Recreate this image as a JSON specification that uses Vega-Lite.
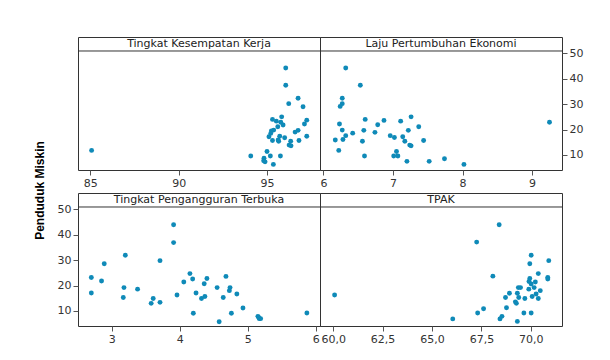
{
  "$schema": "https://vega.github.io/schema/vega-lite/v6.json",
  "background": "white",
  "padding": {"left": 33, "top": 36, "right": 5, "bottom": 5},
  "title": {"text": "Penduduk Miskin", "orient": "left", "anchor": "middle", "font": "Liberation Sans", "fontSize": 12, "fontWeight": "bold", "color": "#000", "offset": 10},
  "data": {"values": [
    {"panel":"TKK","x":85.07,"y":11.8},{"panel":"TKK","x":96.06,"y":44.2},{"panel":"TKK","x":96.06,"y":37.4},{"panel":"TKK","x":96.23,"y":30.2},
    {"panel":"TKK","x":96.76,"y":32.3},{"panel":"TKK","x":97.04,"y":29.0},{"panel":"TKK","x":95.31,"y":24.0},{"panel":"TKK","x":95.83,"y":25.0},
    {"panel":"TKK","x":95.53,"y":23.3},{"panel":"TKK","x":95.78,"y":22.9},{"panel":"TKK","x":95.91,"y":21.8},{"panel":"TKK","x":95.61,"y":21.1},
    {"panel":"TKK","x":95.38,"y":19.8},{"panel":"TKK","x":95.25,"y":19.5},{"panel":"TKK","x":95.21,"y":18.5},{"panel":"TKK","x":97.25,"y":23.7},
    {"panel":"TKK","x":97.12,"y":22.2},{"panel":"TKK","x":96.76,"y":19.7},{"panel":"TKK","x":96.59,"y":19.0},{"panel":"TKK","x":95.11,"y":17.2},
    {"panel":"TKK","x":95.72,"y":17.4},{"panel":"TKK","x":97.25,"y":17.4},{"panel":"TKK","x":95.31,"y":15.7},{"panel":"TKK","x":95.63,"y":15.9},
    {"panel":"TKK","x":95.66,"y":15.4},{"panel":"TKK","x":96.0,"y":16.8},{"panel":"TKK","x":96.34,"y":15.4},{"panel":"TKK","x":96.81,"y":15.7},
    {"panel":"TKK","x":96.25,"y":13.9},{"panel":"TKK","x":96.36,"y":13.6},{"panel":"TKK","x":94.08,"y":9.6},{"panel":"TKK","x":95.0,"y":11.4},
    {"panel":"TKK","x":95.19,"y":9.6},{"panel":"TKK","x":95.76,"y":9.6},{"panel":"TKK","x":94.83,"y":8.7},{"panel":"TKK","x":94.81,"y":7.7},
    {"panel":"TKK","x":94.89,"y":7.3},{"panel":"TKK","x":95.36,"y":6.3},

    {"panel":"LPE","x":6.32,"y":44.2},{"panel":"LPE","x":6.53,"y":37.4},{"panel":"LPE","x":6.27,"y":32.3},{"panel":"LPE","x":6.27,"y":30.2},
    {"panel":"LPE","x":6.24,"y":29.1},{"panel":"LPE","x":6.23,"y":22.2},{"panel":"LPE","x":6.27,"y":19.8},{"panel":"LPE","x":6.17,"y":15.9},
    {"panel":"LPE","x":6.22,"y":11.8},{"panel":"LPE","x":6.28,"y":16.1},{"panel":"LPE","x":6.32,"y":17.6},{"panel":"LPE","x":6.42,"y":18.6},
    {"panel":"LPE","x":6.60,"y":24.0},{"panel":"LPE","x":6.58,"y":19.7},{"panel":"LPE","x":6.56,"y":15.4},{"panel":"LPE","x":6.59,"y":9.6},
    {"panel":"LPE","x":6.78,"y":21.9},{"panel":"LPE","x":6.74,"y":18.9},{"panel":"LPE","x":6.87,"y":23.6},{"panel":"LPE","x":6.96,"y":17.6},
    {"panel":"LPE","x":7.02,"y":16.9},{"panel":"LPE","x":7.11,"y":23.3},{"panel":"LPE","x":7.01,"y":9.6},{"panel":"LPE","x":7.05,"y":11.4},
    {"panel":"LPE","x":7.07,"y":9.6},{"panel":"LPE","x":7.14,"y":17.2},{"panel":"LPE","x":7.17,"y":15.4},{"panel":"LPE","x":7.22,"y":19.7},
    {"panel":"LPE","x":7.26,"y":25.0},{"panel":"LPE","x":7.24,"y":13.9},{"panel":"LPE","x":7.26,"y":13.6},{"panel":"LPE","x":7.20,"y":7.5},
    {"panel":"LPE","x":7.37,"y":21.1},{"panel":"LPE","x":7.44,"y":15.7},{"panel":"LPE","x":7.52,"y":7.5},{"panel":"LPE","x":7.74,"y":8.5},
    {"panel":"LPE","x":8.02,"y":6.3},{"panel":"LPE","x":9.25,"y":22.9},

    {"panel":"TPT","x":2.70,"y":23.2},{"panel":"TPT","x":2.70,"y":17.1},{"panel":"TPT","x":2.85,"y":21.8},{"panel":"TPT","x":2.89,"y":28.6},
    {"panel":"TPT","x":3.20,"y":31.9},{"panel":"TPT","x":3.18,"y":19.2},{"panel":"TPT","x":3.17,"y":15.3},{"panel":"TPT","x":3.38,"y":18.6},
    {"panel":"TPT","x":3.58,"y":13.0},{"panel":"TPT","x":3.61,"y":14.9},{"panel":"TPT","x":3.71,"y":29.8},{"panel":"TPT","x":3.71,"y":13.4},
    {"panel":"TPT","x":3.91,"y":43.9},{"panel":"TPT","x":3.91,"y":36.9},{"panel":"TPT","x":3.96,"y":16.3},{"panel":"TPT","x":4.06,"y":21.4},
    {"panel":"TPT","x":4.15,"y":24.7},{"panel":"TPT","x":4.19,"y":22.6},{"panel":"TPT","x":4.24,"y":17.1},{"panel":"TPT","x":4.20,"y":9.1},
    {"panel":"TPT","x":4.32,"y":14.9},{"panel":"TPT","x":4.36,"y":20.7},{"panel":"TPT","x":4.37,"y":15.7},{"panel":"TPT","x":4.40,"y":22.8},
    {"panel":"TPT","x":4.55,"y":19.2},{"panel":"TPT","x":4.58,"y":5.8},{"panel":"TPT","x":4.64,"y":15.3},{"panel":"TPT","x":4.68,"y":23.6},
    {"panel":"TPT","x":4.73,"y":18.0},{"panel":"TPT","x":4.74,"y":19.2},{"panel":"TPT","x":4.76,"y":9.1},{"panel":"TPT","x":4.84,"y":16.7},
    {"panel":"TPT","x":4.93,"y":11.2},{"panel":"TPT","x":5.15,"y":7.9},{"panel":"TPT","x":5.17,"y":7.0},{"panel":"TPT","x":5.19,"y":7.0},
    {"panel":"TPT","x":5.16,"y":7.5},{"panel":"TPT","x":5.87,"y":9.2},

    {"panel":"TPAK","x":60.07,"y":16.3},{"panel":"TPAK","x":66.05,"y":6.9},{"panel":"TPAK","x":67.26,"y":37.1},{"panel":"TPAK","x":67.31,"y":9.2},
    {"panel":"TPAK","x":67.61,"y":10.9},{"panel":"TPAK","x":68.08,"y":23.7},{"panel":"TPAK","x":68.40,"y":43.9},{"panel":"TPAK","x":68.44,"y":6.9},
    {"panel":"TPAK","x":68.54,"y":7.9},{"panel":"TPAK","x":68.72,"y":15.3},{"panel":"TPAK","x":68.77,"y":11.3},{"panel":"TPAK","x":68.92,"y":17.0},
    {"panel":"TPAK","x":69.22,"y":13.6},{"panel":"TPAK","x":69.27,"y":13.0},{"panel":"TPAK","x":69.32,"y":17.0},{"panel":"TPAK","x":69.37,"y":19.2},
    {"panel":"TPAK","x":69.48,"y":19.2},{"panel":"TPAK","x":69.39,"y":15.3},{"panel":"TPAK","x":69.32,"y":5.9},{"panel":"TPAK","x":69.65,"y":9.2},
    {"panel":"TPAK","x":69.70,"y":14.9},{"panel":"TPAK","x":69.90,"y":18.6},{"panel":"TPAK","x":69.91,"y":21.6},{"panel":"TPAK","x":69.95,"y":22.8},
    {"panel":"TPAK","x":69.95,"y":28.6},{"panel":"TPAK","x":70.02,"y":31.9},{"panel":"TPAK","x":70.02,"y":20.6},{"panel":"TPAK","x":70.02,"y":9.2},
    {"panel":"TPAK","x":70.07,"y":15.7},{"panel":"TPAK","x":70.17,"y":19.2},{"panel":"TPAK","x":70.23,"y":21.4},{"panel":"TPAK","x":70.27,"y":16.7},
    {"panel":"TPAK","x":70.38,"y":24.7},{"panel":"TPAK","x":70.38,"y":14.9},{"panel":"TPAK","x":70.48,"y":18.0},{"panel":"TPAK","x":70.86,"y":23.2},
    {"panel":"TPAK","x":70.86,"y":22.6},{"panel":"TPAK","x":70.91,"y":29.8}
  ]},
  "columns": 2,
  "spacing": {"row": 23, "column": 0},
  "bounds": "flush",
  "resolve": {"scale": {"x": "independent", "y": "independent"}},
  "concat": [
    {
      "width": 242, "height": 133,
      "layer": [
        {"transform": [{"filter": "datum.panel === 'TKK'"}],
         "mark": {"type": "circle", "size": 24, "color": "#0f8ab8", "opacity": 1},
         "encoding": {
           "x": {"field": "x", "type": "quantitative", "scale": {"domain": [84.3, 98.0], "nice": false, "zero": false}, "axis": {"values": [85, 90, 95], "title": null}},
           "y": {"field": "y", "type": "quantitative", "scale": {"domain": [4.1, 56.4], "nice": false, "zero": false}, "axis": null}}},
        {"data": {"values": [{"label": "Tingkat Kesempatan Kerja"}]},
         "mark": {"type": "rule", "color": "#333"}, "encoding": {"y": {"datum": 50.9, "axis": null}}},
        {"data": {"values": [{"label": "Tingkat Kesempatan Kerja"}]},
         "mark": {"type": "text", "font": "DejaVu Sans", "fontSize": 11, "color": "#222"},
         "encoding": {"y": {"datum": 53.65, "axis": null}, "text": {"field": "label"}}}
      ]
    },
    {
      "width": 242, "height": 133,
      "layer": [
        {"transform": [{"filter": "datum.panel === 'LPE'"}],
         "mark": {"type": "circle", "size": 24, "color": "#0f8ab8", "opacity": 1},
         "encoding": {
           "x": {"field": "x", "type": "quantitative", "scale": {"domain": [5.95, 9.43], "nice": false, "zero": false}, "axis": {"values": [6, 7, 8, 9], "title": null}},
           "y": {"field": "y", "type": "quantitative", "scale": {"domain": [4.1, 56.4], "nice": false, "zero": false}, "axis": {"orient": "right", "values": [10, 20, 30, 40, 50], "title": null, "labelOverlap": false}}}},
        {"data": {"values": [{"label": "Laju Pertumbuhan Ekonomi"}]},
         "mark": {"type": "rule", "color": "#333"}, "encoding": {"y": {"datum": 50.9, "axis": {"orient": "right", "values": [10, 20, 30, 40, 50], "title": null, "labelOverlap": false}}}},
        {"data": {"values": [{"label": "Laju Pertumbuhan Ekonomi"}]},
         "mark": {"type": "text", "font": "DejaVu Sans", "fontSize": 11, "color": "#222"},
         "encoding": {"y": {"datum": 53.65, "axis": {"orient": "right", "values": [10, 20, 30, 40, 50], "title": null, "labelOverlap": false}}, "text": {"field": "label"}}}
      ]
    },
    {
      "width": 242, "height": 133,
      "layer": [
        {"transform": [{"filter": "datum.panel === 'TPT'"}],
         "mark": {"type": "circle", "size": 24, "color": "#0f8ab8", "opacity": 1},
         "encoding": {
           "x": {"field": "x", "type": "quantitative", "scale": {"domain": [2.504, 6.063], "nice": false, "zero": false}, "axis": {"values": [3, 4, 5, 6], "title": null}},
           "y": {"field": "y", "type": "quantitative", "scale": {"domain": [4.1, 56.4], "nice": false, "zero": false}, "axis": {"orient": "left", "values": [10, 20, 30, 40, 50], "title": null, "labelOverlap": false}}}},
        {"data": {"values": [{"label": "Tingkat Pengangguran Terbuka"}]},
         "mark": {"type": "rule", "color": "#333"}, "encoding": {"y": {"datum": 50.9, "axis": {"orient": "left", "values": [10, 20, 30, 40, 50], "title": null, "labelOverlap": false}}}},
        {"data": {"values": [{"label": "Tingkat Pengangguran Terbuka"}]},
         "mark": {"type": "text", "font": "DejaVu Sans", "fontSize": 11, "color": "#222"},
         "encoding": {"y": {"datum": 53.65, "axis": {"orient": "left", "values": [10, 20, 30, 40, 50], "title": null, "labelOverlap": false}}, "text": {"field": "label"}}}
      ]
    },
    {
      "width": 242, "height": 133,
      "layer": [
        {"transform": [{"filter": "datum.panel === 'TPAK'"}],
         "mark": {"type": "circle", "size": 24, "color": "#0f8ab8", "opacity": 1},
         "encoding": {
           "x": {"field": "x", "type": "quantitative", "scale": {"domain": [59.33, 71.58], "nice": false, "zero": false}, "axis": {"values": [60, 62.5, 65, 67.5, 70], "labelExpr": "replace(format(datum.value, '.1f'), '.', ',')", "title": null}},
           "y": {"field": "y", "type": "quantitative", "scale": {"domain": [4.1, 56.4], "nice": false, "zero": false}, "axis": null}}},
        {"data": {"values": [{"label": "TPAK"}]},
         "mark": {"type": "rule", "color": "#333"}, "encoding": {"y": {"datum": 50.9, "axis": null}}},
        {"data": {"values": [{"label": "TPAK"}]},
         "mark": {"type": "text", "font": "DejaVu Sans", "fontSize": 11, "color": "#222"},
         "encoding": {"y": {"datum": 53.65, "axis": null}, "text": {"field": "label"}}}
      ]
    }
  ],
  "config": {
    "view": {"stroke": "#333", "strokeWidth": 1},
    "axis": {"labelFont": "DejaVu Sans", "labelFontSize": 11, "labelColor": "#333", "tickColor": "#555", "domain": false, "grid": false, "tickSize": 5, "labelPadding": 2, "labelOverlap": false}
  }
}
